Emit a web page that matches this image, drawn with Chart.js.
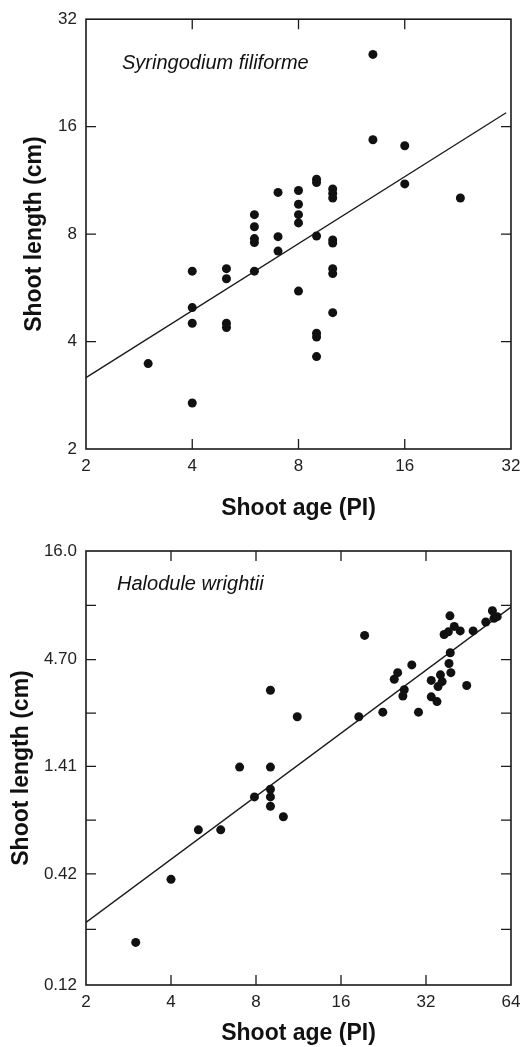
<!DOCTYPE html>
<html>
<head>
<meta charset="utf-8">
<script src="https://cdn.jsdelivr.net/npm/chart.js@4/dist/chart.umd.min.js"></script>
<style>
  html, body { margin: 0; padding: 0; background: #fff; }
  #wrap { position: relative; width: 530px; height: 1047px; overflow: hidden; }
  canvas { position: absolute; left: 0; }
  #chartTop { top: 0; }
  #chartBottom { top: 520px; }
</style>
</head>
<body>
<div id="wrap">
  <canvas id="chartTop" width="530" height="522"></canvas>
  <canvas id="chartBottom" width="530" height="527"></canvas>
</div>
<script>
// Syringodium filiforme (top panel)
const topAge = [3, 4, 4, 4, 4, 5, 5, 5, 5, 6, 6, 6, 6, 6, 7, 7, 7, 8, 8, 8, 8, 8,
  9, 9, 9, 9, 9, 9, 10, 10, 10, 10, 10, 10, 10, 10, 13, 13, 16, 16, 23];
const topLength = [3.47, 2.69, 4.5, 4.98, 6.3, 4.38, 4.5, 6.0, 6.4, 6.3, 7.58, 7.77, 8.39, 9.07,
  7.17, 7.87, 10.47, 5.54, 8.6, 9.07, 9.7, 10.6, 3.63, 4.12, 4.22, 7.9, 11.16, 11.4,
  4.82, 6.2, 6.4, 7.55, 7.7, 10.1, 10.4, 10.7, 14.7, 25.5, 11.06, 14.15, 10.1];
const topFitAge = [2, 31];
const topFitLength = [3.17, 17.5];
const topXTicks = [2, 4, 8, 16, 32];
const topYTicks = [2, 4, 8, 16, 32];
const topYLabels = ['2', '4', '8', '16', '32'];

// Halodule wrightii (bottom panel)
const bottomAge = [3, 4, 5, 6, 7, 7.9, 9, 9, 9, 9, 10, 9, 11.2, 18.5, 19.4, 22.5, 24.7, 25.4,
  26.8, 26.5, 28.5, 30.1, 33.4, 33.4, 35, 35.3, 36, 36.5, 37.1, 38.4, 38.9, 40.3, 39, 38.6,
  39.2, 42.3, 44.6, 47, 52.1, 55, 55.7, 57.2];
const bottomLength = [0.194, 0.395, 0.69, 0.69, 1.40, 1.0, 1.40, 1.09, 1.0, 0.90, 0.80, 3.33,
  2.47, 2.47, 6.18, 2.6, 3.77, 4.06, 3.35, 3.12, 4.43, 2.6, 3.72, 3.09, 2.93, 3.47, 3.96, 3.67,
  6.24, 6.43, 7.7, 6.84, 5.08, 4.5, 4.06, 6.5, 3.51, 6.5, 7.19, 8.16, 7.49, 7.63];
const bottomFitAge = [2, 64];
const bottomFitLength = [0.243, 8.5];
const bottomXTicks = [2, 4, 8, 16, 32, 64];
const bottomYTicks = [0.12, 0.42, 1.41, 4.70, 16.0];
const bottomYMinor = [0.2245, 0.77, 2.57, 8.67];
const bottomYLabels = ['0.12', '0.42', '1.41', '4.70', '16.0'];

const FONT = "'Liberation Sans', Arial, Helvetica, sans-serif";
const INK = '#111';

const framePlugin = {
  id: 'frame',
  beforeDatasetsDraw(chart, args, opts) {
    const { ctx, chartArea: a } = chart;
    const xs = chart.scales.x, ys = chart.scales.y;
    const L = 10;
    ctx.save();
    ctx.strokeStyle = '#1a1a1a';
    ctx.lineWidth = 1.6;
    ctx.strokeRect(a.left, a.top, a.right - a.left, a.bottom - a.top);
    ctx.lineWidth = 1.3;
    ctx.beginPath();
    xs.ticks.forEach((t) => {
      if (t.value <= xs.min || t.value >= xs.max) return;
      const px = xs.getPixelForValue(t.value);
      ctx.moveTo(px, a.bottom); ctx.lineTo(px, a.bottom - L);
      ctx.moveTo(px, a.top); ctx.lineTo(px, a.top + L);
    });
    ys.ticks.forEach((t) => {
      if (t.value <= ys.min || t.value >= ys.max) return;
      const py = ys.getPixelForValue(t.value);
      ctx.moveTo(a.left, py); ctx.lineTo(a.left + L, py);
      ctx.moveTo(a.right, py); ctx.lineTo(a.right - L, py);
    });
    ctx.stroke();
    if (opts.label) {
      ctx.fillStyle = INK;
      ctx.font = `italic 20px ${FONT}`;
      ctx.textBaseline = 'middle';
      ctx.textAlign = 'left';
      ctx.fillText(opts.label, a.left + opts.dx, a.top + opts.dy);
    }
    ctx.restore();
  }
};

function makeChart(id, cfg) {
  const points = cfg.age.map((x, i) => ({ x, y: cfg.length[i] }));
  const fit = cfg.fitAge.map((x, i) => ({ x, y: cfg.fitLength[i] }));
  const yAll = cfg.yTicks.concat(cfg.yMinor || []).sort((p, q) => p - q);
  return new Chart(document.getElementById(id), {
    type: 'scatter',
    data: {
      datasets: [
        { data: points, backgroundColor: INK, borderWidth: 0, pointRadius: 4.5 },
        { type: 'line', data: fit, borderColor: '#1a1a1a', borderWidth: 1.3, pointRadius: 0, fill: false }
      ]
    },
    options: {
      responsive: false,
      animation: false,
      events: [],
      layout: { padding: { left: 0, right: 19, top: cfg.padTop, bottom: 0 } },
      plugins: {
        legend: { display: false },
        tooltip: { enabled: false },
        frame: { label: cfg.label, dx: cfg.labelDx, dy: cfg.labelDy }
      },
      scales: {
        x: {
          type: 'logarithmic',
          min: cfg.xTicks[0],
          max: cfg.xTicks[cfg.xTicks.length - 1],
          afterBuildTicks: (s) => { s.ticks = cfg.xTicks.map((v) => ({ value: v })); },
          afterFit: (s) => { s.height = cfg.xAxisHeight; },
          grid: { display: false, drawTicks: false },
          border: { display: false },
          ticks: {
            autoSkip: false, maxRotation: 0, padding: 7, color: '#222',
            font: { family: FONT, size: 17 },
            callback: (v) => String(v)
          },
          title: {
            display: true, text: 'Shoot age (PI)', color: INK,
            font: { family: FONT, size: 23, weight: 'bold' }, padding: 0
          }
        },
        y: {
          type: 'logarithmic',
          min: cfg.yTicks[0],
          max: cfg.yTicks[cfg.yTicks.length - 1],
          afterBuildTicks: (s) => { s.ticks = yAll.map((v) => ({ value: v })); },
          afterFit: (s) => { s.width = 86; },
          grid: { display: false, drawTicks: false },
          border: { display: false },
          ticks: {
            autoSkip: false, padding: 9, color: '#222',
            font: { family: FONT, size: 17 },
            callback: (v) => {
              const k = cfg.yTicks.indexOf(v);
              return k >= 0 ? cfg.yLabels[k] : '';
            }
          },
          title: {
            display: true, text: 'Shoot length (cm)', color: INK,
            font: { family: FONT, size: 23, weight: 'bold' }, padding: { top: cfg.yTitlePad, bottom: 0 }
          }
        }
      }
    },
    plugins: [framePlugin]
  });
}

makeChart('chartTop', {
  age: topAge, length: topLength, fitAge: topFitAge, fitLength: topFitLength,
  xTicks: topXTicks, yTicks: topYTicks, yLabels: topYLabels,
  padTop: 14, xAxisHeight: 73, yTitlePad: 21,
  label: 'Syringodium filiforme', labelDx: 36, labelDy: 44
});

makeChart('chartBottom', {
  age: bottomAge, length: bottomLength, fitAge: bottomFitAge, fitLength: bottomFitLength,
  xTicks: bottomXTicks, yTicks: bottomYTicks, yMinor: bottomYMinor, yLabels: bottomYLabels,
  padTop: 31, xAxisHeight: 62, yTitlePad: 8,
  label: 'Halodule wrightii', labelDx: 31, labelDy: 33
});
</script>
</body>
</html>
